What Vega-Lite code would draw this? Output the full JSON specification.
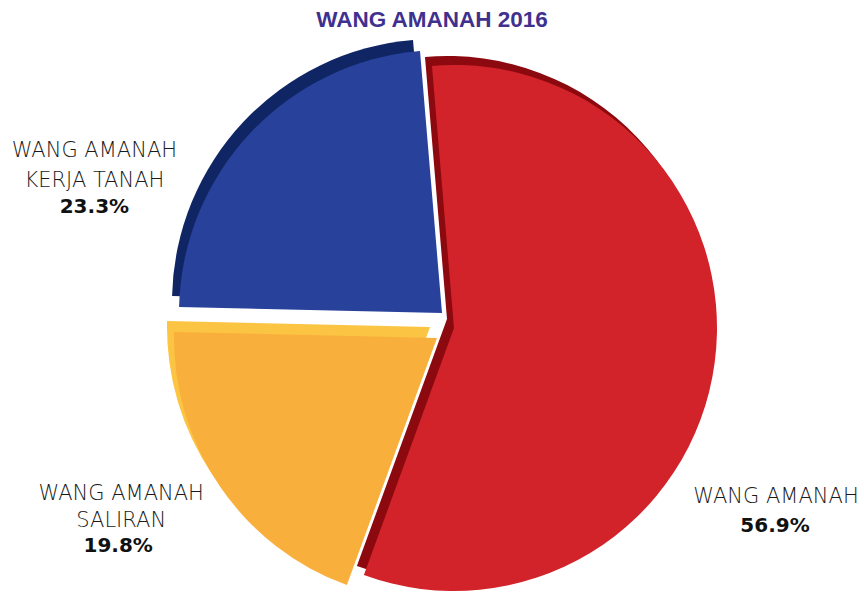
{
  "$schema": "https://vega.github.io/schema/vega-lite/v6.json",
  "width": 864,
  "height": 558,
  "autosize": {"type": "none"},
  "padding": {"top": 34, "left": 0, "right": 0, "bottom": 0},
  "background": "#ffffff",
  "view": {"stroke": null},
  "title": {
    "text": "WANG AMANAH 2016",
    "font": "Liberation Sans",
    "fontSize": 22.5,
    "fontWeight": "bold",
    "color": "#40318F",
    "anchor": "middle",
    "offset": 3
  },
  "data": {
    "values": [
      {"category": "WANG AMANAH", "label": "WANG AMANAH", "value": 56.9, "pct": "56.9%", "order": 1},
      {"category": "WANG AMANAH SALIRAN", "label": "WANG AMANAH\nSALIRAN", "value": 19.8, "pct": "19.8%", "order": 2},
      {"category": "WANG AMANAH KERJA TANAH", "label": "WANG AMANAH\nKERJA TANAH", "value": 23.3, "pct": "23.3%", "order": 3}
    ]
  },
  "transform": [
    {"stack": "value", "groupby": [], "sort": [{"field": "order", "order": "ascending"}], "as": ["t0", "t1"]},
    {"calculate": "(datum.t0 + datum.t1) / 2", "as": "tm"}
  ],
  "layer": [
    {
      "transform": [{"filter": "datum.order == 1"}],
      "encoding": {
        "theta": {"field": "t0", "type": "quantitative", "stack": null, "scale": {"domain": [0, 100], "range": [-0.0838, 6.1994]}},
        "theta2": {"field": "t1"}
      },
      "layer": [
        {"mark": {"type": "arc", "outerRadius": 263, "color": "#8C0A0F", "xOffset": 15, "yOffset": 6}},
        {"mark": {"type": "arc", "outerRadius": 263, "color": "#D3232A", "xOffset": 22, "yOffset": 15}}
      ]
    },
    {
      "transform": [{"filter": "datum.order == 2"}],
      "encoding": {
        "theta": {"field": "t0", "type": "quantitative", "stack": null, "scale": {"domain": [0, 100], "range": [-0.0838, 6.1994]}},
        "theta2": {"field": "t1"}
      },
      "layer": [
        {"mark": {"type": "arc", "outerRadius": 263, "color": "#FCC443", "xOffset": -2, "yOffset": 14}},
        {"mark": {"type": "arc", "outerRadius": 263, "color": "#F9AF3B", "xOffset": 5, "yOffset": 25}}
      ]
    },
    {
      "transform": [{"filter": "datum.order == 3"}],
      "encoding": {
        "theta": {"field": "t0", "type": "quantitative", "stack": null, "scale": {"domain": [0, 100], "range": [-0.0838, 6.1994]}},
        "theta2": {"field": "t1"}
      },
      "layer": [
        {"mark": {"type": "arc", "outerRadius": 263, "color": "#0F2564", "xOffset": 3, "yOffset": -11}},
        {"mark": {"type": "arc", "outerRadius": 263, "color": "#28419B", "xOffset": 10, "yOffset": 0}}
      ]
    },
    {
      "transform": [{"filter": "datum.order == 1"}],
      "mark": {"type": "text", "radius": 340, "font": "DejaVu Sans", "fontSize": 21, "fontWeight": 300, "color": "#1a1a1a", "align": "center", "baseline": "alphabetic", "lineBreak": "\n", "lineHeight": 29, "dx": 7, "dy": 145},
      "encoding": {"theta": {"field": "tm", "type": "quantitative", "stack": null, "scale": {"domain": [0, 100], "range": [-0.0838, 6.1994]}}, "text": {"field": "label"}}
    },
    {
      "transform": [{"filter": "datum.order == 1"}],
      "mark": {"type": "text", "radius": 340, "font": "DejaVu Sans", "fontSize": 20, "fontWeight": "bold", "color": "#111111", "align": "center", "baseline": "alphabetic", "dx": 6, "dy": 174},
      "encoding": {"theta": {"field": "tm", "type": "quantitative", "stack": null, "scale": {"domain": [0, 100], "range": [-0.0838, 6.1994]}}, "text": {"field": "pct"}}
    },
    {
      "transform": [{"filter": "datum.order == 2"}],
      "mark": {"type": "text", "radius": 340, "font": "DejaVu Sans", "fontSize": 21, "fontWeight": 300, "color": "#1a1a1a", "align": "center", "baseline": "alphabetic", "lineBreak": "\n", "lineHeight": 27, "dx": -30, "dy": -5},
      "encoding": {"theta": {"field": "tm", "type": "quantitative", "stack": null, "scale": {"domain": [0, 100], "range": [-0.0838, 6.1994]}}, "text": {"field": "label"}}
    },
    {
      "transform": [{"filter": "datum.order == 2"}],
      "mark": {"type": "text", "radius": 340, "font": "DejaVu Sans", "fontSize": 20, "fontWeight": "bold", "color": "#111111", "align": "center", "baseline": "alphabetic", "dx": -33, "dy": 47},
      "encoding": {"theta": {"field": "tm", "type": "quantitative", "stack": null, "scale": {"domain": [0, 100], "range": [-0.0838, 6.1994]}}, "text": {"field": "pct"}}
    },
    {
      "transform": [{"filter": "datum.order == 3"}],
      "mark": {"type": "text", "radius": 340, "font": "DejaVu Sans", "fontSize": 21, "fontWeight": 300, "color": "#1a1a1a", "align": "center", "baseline": "alphabetic", "lineBreak": "\n", "lineHeight": 30, "dx": -90, "dy": 77},
      "encoding": {"theta": {"field": "tm", "type": "quantitative", "stack": null, "scale": {"domain": [0, 100], "range": [-0.0838, 6.1994]}}, "text": {"field": "label"}}
    },
    {
      "transform": [{"filter": "datum.order == 3"}],
      "mark": {"type": "text", "radius": 340, "font": "DejaVu Sans", "fontSize": 20, "fontWeight": "bold", "color": "#111111", "align": "center", "baseline": "alphabetic", "dx": -90, "dy": 133},
      "encoding": {"theta": {"field": "tm", "type": "quantitative", "stack": null, "scale": {"domain": [0, 100], "range": [-0.0838, 6.1994]}}, "text": {"field": "pct"}}
    }
  ]
}
